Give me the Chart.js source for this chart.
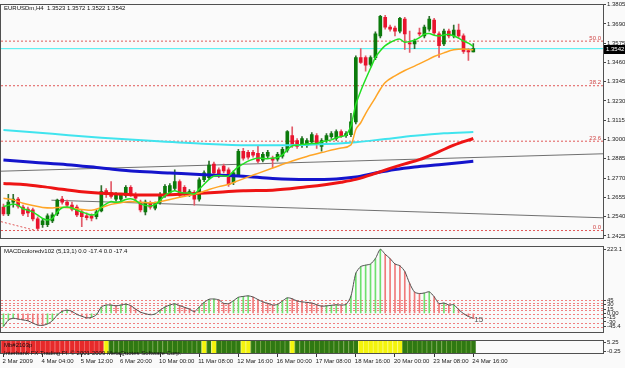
<!DOCTYPE html>
<html>
<head>
<meta charset="utf-8">
<title>EURUSDm,H4</title>
<script src="https://cdn.jsdelivr.net/npm/chart.js@4.4.0/dist/chart.umd.min.js"></script>
<style>
    html, body { margin: 0; padding: 0; background: #fafafa; }
    #wrap { position: relative; width: 625px; height: 368px; overflow: hidden; }
    canvas { position: absolute; left: 0; }
</style>
</head>
<body>
<div id="wrap">
    <canvas id="mainChart" width="625" height="242" style="top:0px"></canvas>
    <canvas id="macdChart" width="625" height="94" style="top:242px"></canvas>
    <canvas id="barsChart" width="625" height="32" style="top:336px"></canvas>
</div>
<script>
// Candles (H4 bars from 2 Mar 20:00 to 24 Mar 16:00)
const opens = [1.2597,1.2556,1.2626,1.2644,1.2597,1.2585,1.2580,1.2527,1.2492,1.2492,
    1.2515,1.2556,1.2644,1.2626,1.2609,1.2597,1.2568,1.2545,1.2545,1.2539,
    1.2574,1.2696,1.2684,1.2644,1.2644,1.2667,1.2714,1.2673,1.2626,1.2568,
    1.2620,1.2591,1.2626,1.2667,1.2685,1.2708,1.2749,1.2714,1.2673,1.2684,
    1.2644,1.2760,1.2772,1.2854,1.2819,1.2842,1.2819,1.2743,1.2790,1.2930,
    1.2924,1.2924,1.2918,1.2877,1.2901,1.2889,1.2883,1.2901,1.2936,1.3023,
    1.2994,1.2965,1.2965,1.2985,1.3023,1.2959,1.2994,1.3017,1.3006,1.3047,
    1.3023,1.3029,1.3105,1.3489,1.3489,1.3448,1.3489,1.3618,1.3729,1.3671,
    1.3665,1.3647,1.3718,1.3577,1.3571,1.3636,1.3618,1.3659,1.3712,1.3630,
    1.3571,1.3647,1.3618,1.3653,1.3618,1.3531,1.3523];
const highs = [1.2615,1.2673,1.2673,1.2655,1.2609,1.2597,1.2591,1.2539,1.2527,1.2556,
    1.2562,1.2644,1.2661,1.2638,1.2626,1.2609,1.2580,1.2562,1.2556,1.2580,
    1.2725,1.2708,1.2749,1.2684,1.2679,1.2725,1.2725,1.2684,1.2638,1.2638,
    1.2632,1.2626,1.2684,1.2731,1.2737,1.2819,1.2760,1.2725,1.2702,1.2696,
    1.2772,1.2813,1.2871,1.2866,1.2831,1.2854,1.2831,1.2813,1.2941,1.2947,
    1.2936,1.2936,1.2965,1.2924,1.2936,1.2901,1.2924,1.2953,1.3054,1.3076,
    1.3006,1.3017,1.3006,1.3041,1.3035,1.3006,1.3035,1.3047,1.3058,1.3058,
    1.3047,1.3157,1.3500,1.3542,1.3500,1.3500,1.3642,1.3741,1.3741,1.3683,
    1.3677,1.3729,1.3729,1.3647,1.3600,1.3665,1.3683,1.3735,1.3723,1.3642,
    1.3659,1.3659,1.3683,1.3689,1.3630,1.3542,1.3572];
const lows = [1.2545,1.2545,1.2597,1.2591,1.2545,1.2539,1.2515,1.2457,1.2475,1.2480,
    1.2504,1.2545,1.2615,1.2597,1.2574,1.2539,1.2480,1.2521,1.2515,1.2527,
    1.2568,1.2655,1.2650,1.2632,1.2626,1.2655,1.2661,1.2638,1.2568,1.2550,
    1.2585,1.2580,1.2615,1.2655,1.2673,1.2696,1.2655,1.2661,1.2661,1.2609,
    1.2632,1.2749,1.2760,1.2790,1.2772,1.2801,1.2720,1.2731,1.2778,1.2877,
    1.2883,1.2895,1.2860,1.2866,1.2889,1.2831,1.2871,1.2889,1.2924,1.2953,
    1.2947,1.2953,1.2953,1.2976,1.2947,1.2930,1.2982,1.3006,1.2994,1.3012,
    1.3012,1.3017,1.3093,1.3454,1.3408,1.3437,1.3477,1.3606,1.3659,1.3647,
    1.3618,1.3636,1.3537,1.3519,1.3542,1.3618,1.3606,1.3647,1.3624,1.3490,
    1.3560,1.3606,1.3606,1.3606,1.3513,1.3472,1.3522];
const closes = [1.2556,1.2626,1.2644,1.2603,1.2556,1.2562,1.2527,1.2469,1.2515,1.2545,
    1.2550,1.2638,1.2626,1.2609,1.2585,1.2550,1.2539,1.2533,1.2530,1.2568,
    1.2690,1.2673,1.2661,1.2673,1.2667,1.2714,1.2673,1.2650,1.2580,1.2626,
    1.2597,1.2615,1.2673,1.2720,1.2725,1.2749,1.2667,1.2673,1.2690,1.2644,
    1.2760,1.2801,1.2848,1.2801,1.2784,1.2813,1.2731,1.2801,1.2930,1.2889,
    1.2895,1.2906,1.2871,1.2912,1.2924,1.2877,1.2912,1.2941,1.3047,1.2965,
    1.2959,1.3006,1.2994,1.3029,1.2976,1.2994,1.3023,1.3035,1.3047,1.3023,
    1.3035,1.3105,1.3489,1.3460,1.3443,1.3489,1.3630,1.3735,1.3671,1.3659,
    1.3647,1.3723,1.3630,1.3571,1.3589,1.3630,1.3671,1.3718,1.3636,1.3560,
    1.3647,1.3618,1.3653,1.3618,1.3525,1.3523,1.3542];

// Moving averages
const greenMA = [1.2600,1.2607,1.2616,1.2607,1.2587,1.2578,1.2568,1.2549,1.2529,1.2520,
    1.2529,1.2568,1.2593,1.2597,1.2591,1.2578,1.2568,1.2558,1.2549,1.2558,
    1.2597,1.2616,1.2630,1.2626,1.2630,1.2642,1.2646,1.2636,1.2616,1.2607,
    1.2603,1.2611,1.2636,1.2665,1.2685,1.2695,1.2685,1.2681,1.2681,1.2675,
    1.2704,1.2733,1.2762,1.2782,1.2786,1.2782,1.2782,1.2811,1.2838,1.2855,
    1.2871,1.2882,1.2889,1.2887,1.2885,1.2889,1.2893,1.2908,1.2940,1.2962,
    1.2966,1.2971,1.2974,1.2976,1.2976,1.2986,1.2992,1.2998,1.3010,1.3018,
    1.3025,1.3080,1.3210,1.3290,1.3360,1.3425,1.3490,1.3530,1.3560,1.3579,
    1.3593,1.3599,1.3580,1.3585,1.3593,1.3608,1.3628,1.3632,1.3622,1.3618,
    1.3624,1.3628,1.3618,1.3605,1.3588,1.3575,1.3556];
const orangeIdx = [0,2,4,6,8,10,12,14,16,18,20,22,24,26,28,30,32,34,36,38,40,42,44,46,48,52,55,59,62,65,69,71,72,73,74,76,77,78,80,82,84,86,88,90,92,94,96];
const orangeVal = [1.2650,1.2640,1.2620,1.2606,1.2595,1.2592,1.2596,1.2590,1.2583,1.2578,
    1.2594,1.2613,1.2623,1.2630,1.2626,1.2622,1.2630,1.2642,1.2655,1.2668,
    1.2681,1.2702,1.2719,1.2733,1.2755,1.2798,1.2830,1.2872,1.2899,1.2922,
    1.2950,1.2968,1.3060,1.3100,1.3155,1.3250,1.3300,1.3340,1.3380,1.3412,
    1.3438,1.3466,1.3495,1.3517,1.3535,1.3540,1.3535];
const redIdx = [0,4,8,12,16,20,24,28,32,36,40,44,49,55,62,66,69,72,76,79,82,85,89,92,96];
const redVal = [1.2738,1.2732,1.2719,1.2703,1.2688,1.2679,1.2675,1.2669,1.2669,1.2673,
    1.2679,1.2685,1.2695,1.2698,1.2718,1.2732,1.2745,1.2762,1.2798,1.2828,
    1.2855,1.2880,1.2928,1.2966,1.3006];
const blueIdx = [0,6,13,20,27,34,41,49,55,62,68,72,76,80,84,89,96];
const blueVal = [1.2878,1.2864,1.2850,1.2830,1.2810,1.2800,1.2790,1.2781,1.2768,1.2762,
    1.2765,1.2776,1.2800,1.2821,1.2836,1.2850,1.2870];
const cyanIdx = [0,10,20,30,40,50,58,66,72,78,84,90,96];
const cyanVal = [1.3057,1.3034,1.3011,1.2992,1.2976,1.2966,1.2966,1.2973,1.2984,1.3003,
    1.3022,1.3037,1.3045];

// Drawn objects: trend lines, fibonacci levels, bid line
const upperTrendIdx = [-0.5, 122.5];
const upperTrendVal = [1.2811, 1.2915];
const lowerTrendIdx = [9.8, 122.5];
const lowerTrendVal = [1.2638, 1.2533];
const fiboDiagIdx = [-0.5, 6.5];
const fiboDiagVal = [1.2510, 1.2458];
const fiboNames = ['0.0', '23.6', '38.2', '50.0'];
const fiboPrices = [1.2457, 1.2990, 1.3321, 1.3587];
const bidPrice = 1.3542;
const priceTicks = [1.3805,1.3690,1.3575,1.3460,1.3345,1.3230,1.3115,1.3000,1.2885,1.2770,1.2655,1.2540,1.2425];

// MACD (5,13,1)
const macd = [-45.4,-24,-17,-20,-23,-26,-34,-41,-42,-37,
    -26,-6,7,11,7,-4,-10,-16,-14,-5,
    22,29,29,26,29,32,27,15,4,-1,
    -5,-2,11,22,29,33,27,21,15,6,
    22,38,49,50,47,35,34,44,56,59,
    61,57,48,40,35,29,31,43,54,51,
    43,40,38,36,30,25,26,28,30,29,
    31,60,140,163,168,172,191,223.1,206,191,
    172,166,146,104,74,69,71,75,58,34,
    36,29,30,13,-1,-11,-17.4];
const macdLevels = [45, 37, 29, 19, 10, -4, -18, -32, -46];
const macdTicks = [223.1, 45, 30, 15, 0, -15, -30, -45.4];
const macdTickText = ['223.1', '45', '30', '15', '0.00', '-15', '-30', '-45.4'];

// Trend bars: r = red, y = yellow, g = green
const trendState = ('rrrrrrrrrrrrrrrrrrrrr' + 'y' + 'ggggggggggggggggggg' + 'y' + 'g' + 'y' +
    'ggggg' + 'yy' + 'gggggggg' + 'y' + 'ggggggggggggg' + 'yyyyyyyyy' + 'ggggggggggggggg').split('');
const barTicks = [5.25, -0.25];

// Time axis
const timeTickIdx = [0, 8, 16, 24, 32, 40, 48, 56, 64, 72, 80, 88, 96];
const timeLabels = ['2 Mar 2009', '4 Mar 04:00', '5 Mar 12:00', '6 Mar 20:00', '10 Mar 00:00',
    '11 Mar 08:00', '12 Mar 16:00', '16 Mar 00:00', '17 Mar 08:00', '18 Mar 16:00',
    '20 Mar 00:00', '23 Mar 08:00', '24 Mar 16:00'];

Chart.defaults.font.family = "'Liberation Sans', Arial, sans-serif";
Chart.defaults.font.size = 6;
Chart.defaults.color = '#222';
Chart.defaults.animation = false;

const X_MIN = -0.5, X_MAX = 122.5;
const FONT = "6px 'Liberation Sans', Arial, sans-serif";

function pts(idx, vals) {
    return idx.map((x, k) => ({ x: x, y: vals[k] }));
}

function hiddenX() {
    return { type: 'linear', min: X_MIN, max: X_MAX, offset: false, display: false, grid: { offset: false } };
}

function rightAxis(min, max, ticks, fmt) {
    return {
        position: 'right', min: min, max: max,
        afterFit(axis) { axis.width = 22; },
        afterBuildTicks(axis) { axis.ticks = ticks.map(v => ({ value: v })); },
        ticks: { autoSkip: false, padding: 1, color: '#222', callback: fmt },
        grid: { drawOnChartArea: false, tickLength: 3, color: '#444' },
        border: { display: false }
    };
}

// Dark frame around each plot area
const framePlugin = {
    id: 'frame',
    afterDraw(chart) {
        const { ctx, chartArea: a } = chart;
        ctx.save();
        ctx.strokeStyle = '#505050';
        ctx.lineWidth = 1;
        ctx.strokeRect(Math.round(a.left) - 0.5, Math.round(a.top) - 0.5,
            Math.round(a.right - a.left) + 1, Math.round(a.bottom - a.top) + 1);
        ctx.restore();
    }
};

function lineSet(data, color, width, order, extra) {
    return Object.assign({
        type: 'line', data: data, borderColor: color, borderWidth: width,
        pointRadius: 0, fill: false, order: order, cubicInterpolationMode: 'monotone'
    }, extra || {});
}

function createMainChart() {
    const bull = closes.map((c, i) => c >= opens[i]);
    const datasets = [];

    fiboPrices.forEach(p => {
        datasets.push(lineSet([{ x: X_MIN, y: p }, { x: X_MAX, y: p }], '#e05858', 1, 30, { borderDash: [2, 2] }));
    });
    datasets.push(lineSet(pts(fiboDiagIdx, fiboDiagVal), '#e05858', 1, 30, { borderDash: [2, 2] }));
    datasets.push(lineSet([{ x: X_MIN, y: bidPrice }, { x: X_MAX, y: bidPrice }], '#48eef2', 1, 29));
    datasets.push(lineSet(pts(upperTrendIdx, upperTrendVal), '#707070', 1, 28));
    datasets.push(lineSet(pts(lowerTrendIdx, lowerTrendVal), '#707070', 1, 28));

    // Candle wicks and bodies as floating bars
    datasets.push({
        type: 'bar', grouped: false, order: 21, barThickness: 1,
        data: lows.map((l, i) => ({ x: i, y: [l, highs[i]] })),
        backgroundColor: bull.map(b => b ? '#2f6f2f' : '#e25a68')
    });
    datasets.push({
        type: 'bar', grouped: false, order: 20, barThickness: 3, minBarLength: 1,
        data: opens.map((o, i) => ({ x: i, y: [o, closes[i]] })),
        backgroundColor: bull.map(b => b ? '#0b7a0b' : '#e8142e')
    });

    datasets.push(lineSet(pts(cyanIdx, cyanVal), '#40e4ee', 2, 5));
    datasets.push(lineSet(pts(blueIdx, blueVal), '#1414cc', 3, 4));
    datasets.push(lineSet(pts(redIdx, redVal), '#ee1414', 3, 3));
    datasets.push(lineSet(pts(orangeIdx, orangeVal), '#ffa526', 1.5, 2));
    datasets.push(lineSet(greenMA.map((v, i) => ({ x: i, y: v })), '#22e022', 1.5, 1, { cubicInterpolationMode: 'default', tension: 0.2 }));

    const overlay = {
        id: 'mainOverlay',
        afterDraw(chart) {
            const { ctx, chartArea: a } = chart;
            const y = chart.scales.y;
            ctx.save();
            ctx.font = FONT;
            ctx.textBaseline = 'middle';
            ctx.fillStyle = '#111';
            ctx.textAlign = 'left';
            ctx.fillText('EURUSDm,H4  1.3523 1.3572 1.3522 1.3542', a.left + 3, a.top + 3.5);

            ctx.fillStyle = '#d04848';
            ctx.textAlign = 'right';
            fiboPrices.forEach((p, k) => {
                ctx.fillText(fiboNames[k], a.right - 2, y.getPixelForValue(p) - 3);
            });

            // current price box on the axis
            const by = Math.round(y.getPixelForValue(bidPrice));
            ctx.fillStyle = '#000';
            ctx.fillRect(a.right + 1, by - 4, 21, 9);
            ctx.fillStyle = '#fff';
            ctx.textAlign = 'left';
            ctx.fillText(bidPrice.toFixed(4), a.right + 3, by + 0.5);
            ctx.restore();
        }
    };

    new Chart(document.getElementById('mainChart'), {
        type: 'bar',
        data: { datasets: datasets },
        options: {
            responsive: false, devicePixelRatio: 1,
            layout: { padding: { left: 1, top: 3, right: 0, bottom: 1 } },
            plugins: { legend: { display: false }, tooltip: { enabled: false } },
            scales: {
                x: hiddenX(),
                y: rightAxis(1.2416, 1.3805, priceTicks, v => v.toFixed(4))
            }
        },
        plugins: [framePlugin, overlay]
    });
}

function createMacdChart() {
    const colors = macd.map((v, i) => (i === 0 || v >= macd[i - 1]) ? '#6ee06e' : '#f07a7a');

    const overlay = {
        id: 'macdOverlay',
        beforeDatasetsDraw(chart) {
            const { ctx, chartArea: a } = chart;
            const y = chart.scales.y;
            ctx.save();
            ctx.strokeStyle = '#f08080';
            ctx.lineWidth = 1;
            ctx.setLineDash([2, 2]);
            macdLevels.forEach(v => {
                const py = Math.round(y.getPixelForValue(v)) + 0.5;
                ctx.beginPath();
                ctx.moveTo(a.left, py);
                ctx.lineTo(a.right, py);
                ctx.stroke();
            });
            ctx.restore();
        },
        afterDraw(chart) {
            const { ctx, chartArea: a } = chart;
            const x = chart.scales.x, y = chart.scales.y;
            ctx.save();
            ctx.font = FONT;
            ctx.textBaseline = 'middle';
            ctx.fillStyle = '#111';
            ctx.fillText('MACDcoloredv102 (5,13,1) 0.0 -17.4 0.0 -17.4', a.left + 3, a.top + 5);
            ctx.font = "8px 'Liberation Sans', Arial, sans-serif";
            ctx.fillStyle = '#555';
            ctx.fillText('15', x.getPixelForValue(96) + 1, y.getPixelForValue(-21));
            ctx.restore();
        }
    };

    new Chart(document.getElementById('macdChart'), {
        type: 'bar',
        data: {
            datasets: [
                {
                    type: 'line', data: macd.map((v, i) => ({ x: i, y: v })), borderColor: '#505050',
                    borderWidth: 1, pointRadius: 0, tension: 0.25, order: 0
                },
                {
                    type: 'bar', data: macd.map((v, i) => ({ x: i, y: v })), backgroundColor: colors,
                    barThickness: 1, grouped: false, order: 1
                }
            ]
        },
        options: {
            responsive: false, devicePixelRatio: 1,
            layout: { padding: { left: 1, top: 1, right: 0, bottom: 1 } },
            plugins: { legend: { display: false }, tooltip: { enabled: false } },
            scales: {
                x: hiddenX(),
                y: rightAxis(-63, 232.7, macdTicks, v => macdTickText[macdTicks.indexOf(v)])
            }
        },
        plugins: [framePlugin, overlay]
    });
}

function createBarsChart() {
    const fill = { r: '#e62a2a', y: '#f4f40c', g: '#2f7812' };
    const edge = { r: '#f26a6a', y: '#fafa70', g: '#6a9e38' };

    const overlay = {
        id: 'barsOverlay',
        afterDraw(chart) {
            const { ctx, chartArea: a } = chart;
            ctx.save();
            ctx.font = FONT;
            ctx.textBaseline = 'middle';
            ctx.fillStyle = '#111';
            ctx.fillText('Mb#2103p', a.left + 3, a.top + 5);
            ctx.fillText('Interbank FX Trading Pl. \u00a9 2001-2009 MetaQuotes Software Corp.', a.left + 3, a.top + 13);
            ctx.restore();
        }
    };

    new Chart(document.getElementById('barsChart'), {
        type: 'bar',
        data: {
            datasets: [{
                data: trendState.map((s, i) => ({ x: i, y: [-1, 6.5] })),
                backgroundColor: trendState.map(s => fill[s]),
                borderColor: trendState.map(s => edge[s]),
                borderWidth: { left: 1, right: 0, top: 0, bottom: 0 },
                borderSkipped: false,
                barPercentage: 1, categoryPercentage: 1, grouped: false
            }]
        },
        options: {
            responsive: false, devicePixelRatio: 1,
            layout: { padding: { left: 1, top: 1, right: 0, bottom: 0 } },
            plugins: { legend: { display: false }, tooltip: { enabled: false } },
            scales: {
                x: {
                    type: 'linear', min: X_MIN, max: X_MAX, offset: false,
                    afterBuildTicks(axis) { axis.ticks = timeTickIdx.map(v => ({ value: v })); },
                    afterFit(axis) { axis.height = 15; },
                    ticks: {
                        autoSkip: false, maxRotation: 0, minRotation: 0, align: 'start', padding: 1,
                        labelOffset: -1, color: '#222',
                        callback: v => timeLabels[timeTickIdx.indexOf(v)]
                    },
                    grid: { offset: false, drawOnChartArea: false, tickLength: 4, color: '#333' },
                    border: { display: false }
                },
                y: rightAxis(-1, 6.5, barTicks, v => v.toFixed(2))
            }
        },
        plugins: [framePlugin, overlay]
    });
}

document.addEventListener('DOMContentLoaded', () => {
    createMainChart();
    createMacdChart();
    createBarsChart();
});
</script>
</body>
</html>
